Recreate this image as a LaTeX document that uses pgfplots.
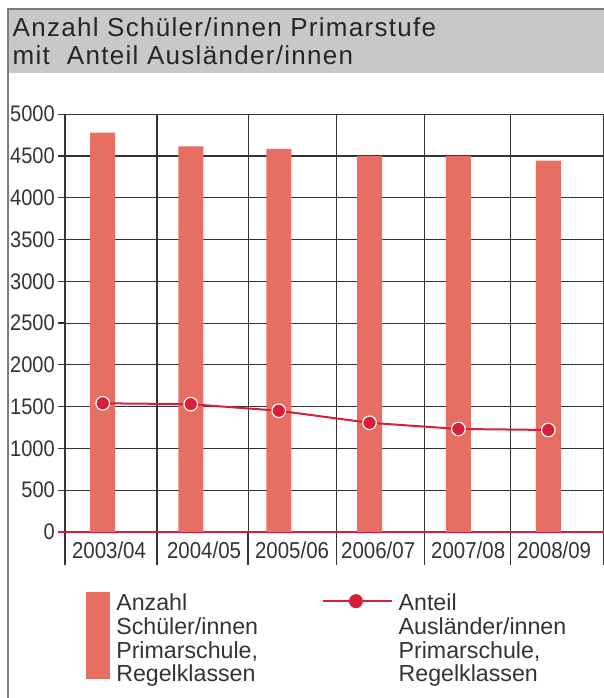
\documentclass[border=0pt]{standalone}
\usepackage{pgfplots}
\pgfplotsset{compat=1.18}
\usepackage{fontspec}
\setmainfont{Liberation Sans}[FakeStretch=0.89]
\newfontfamily\titlefont{Liberation Sans}[LetterSpace=5]
\newfontfamily\legfont{Liberation Sans}
\definecolor{barc}{HTML}{E66E63}
\definecolor{linec}{HTML}{D81E3B}
\definecolor{boxc}{HTML}{C8C8CA}
\definecolor{framec}{HTML}{7A7A7A}
\definecolor{gridc}{HTML}{333333}
\begin{document}
\begin{tikzpicture}
\useasboundingbox (0bp,0bp) rectangle (604bp,698bp);
\fill[boxc] (7.5bp,625.3bp) rectangle (604bp,689bp);
\draw[framec, line width=1.5bp] (7.8bp,0bp) -- (7.8bp,689bp) -- (604bp,689bp);
\node[anchor=base west, inner sep=0pt, text=black!85, font=\titlefont\fontsize{26bp}{26bp}\selectfont] at (12.5bp,661.3bp) {Anzahl Schüler/innen Primarstufe};
\node[anchor=base west, inner sep=0pt, text=black!85, font=\titlefont\fontsize{26bp}{26bp}\selectfont] at (12.5bp,633.7bp) {mit\ \ Anteil Ausländer/innen};
\begin{axis}[
  at={(65bp,166bp)}, anchor=south west,
  scale only axis, width=539bp, height=417.8bp,
  xmin=0, xmax=6, ymin=0, ymax=5000,
  axis lines=left, axis line style={-},
  x axis line style={draw=linec, line width=1.2bp},
  y axis line style={draw=gridc, line width=1.2bp},
  tick align=outside,
  major tick length=6.7bp,
  xtick={0,1.024,2.038,3.018,3.998,4.955,6},
  xticklabels={},
  xtick style={draw=gridc, line width=1.2bp, /pgfplots/major tick length=33.4bp},
  ytick={500,1000,...,5000},
  ytick style={draw=gridc, line width=1.2bp},
  xmajorgrids, ymajorgrids,
  major grid style={draw=gridc, line width=1.1bp},
  scaled y ticks=false,
  yticklabel style={font=\fontsize{22.5bp}{26bp}\selectfont, /pgf/number format/1000 sep={}, /pgf/number format/assume math mode=true, text=black!80},
  extra y ticks={0},
  extra y tick style={grid=none, ytick style={draw=linec, line width=1.2bp}},
  extra x ticks={0.49,1.548,2.528,3.486,4.488,5.445},
  extra x tick labels={2003/04,2004/05,2005/06,2006/07,2007/08,2008/09},
  extra x tick style={grid=none, xtick style={/pgfplots/major tick length=0pt, draw=none},
     xticklabel style={font=\fontsize{23bp}{26bp}\selectfont, text=black!80}},
  legend columns=2,
  legend style={at={(0.0395,-0.1437)}, anchor=north west, draw=none, fill=none,
     inner sep=0pt, outer sep=0pt, row sep=0pt,
     font=\legfont\fontsize{23.2bp}{22.8bp}\selectfont, text=black!80,
     /tikz/every odd column/.append style={column sep=4bp},
     /tikz/every even column/.append style={column sep=61.5bp}},
]
\addplot[ybar, bar width=25bp, bar shift=0pt, fill=barc, draw=none,
  legend image code/.code={\fill[barc] (0bp,10.7bp) rectangle (24bp,-76bp);}]
  coordinates {(0.42,4780) (1.40,4616) (2.38,4585) (3.39,4500) (4.38,4500) (5.38,4444)};
\addlegendentry{\begin{tabular}[t]{@{}l@{}}Anzahl\\Schüler/innen\\Primarschule,\\Regelklassen\end{tabular}}
\addplot[linec, line width=2bp, mark=*, mark size=6.8bp,
  mark options={fill=linec, draw=white, line width=1.2bp},
  legend image code/.code={\path (0bp,2bp) -- (69bp,2bp); \draw[linec, line width=2bp] (0bp,2bp) -- (65.7bp,2bp); \fill[linec] (33.3bp,2bp) circle (6bp);}]
  coordinates {(0.42,1540) (1.40,1530) (2.38,1451) (3.39,1307) (4.38,1233) (5.38,1221)};
\addlegendentry{\begin{tabular}[t]{@{}l@{}}Anteil\\Ausländer/innen\\Primarschule,\\Regelklassen\end{tabular}}
\end{axis}
\end{tikzpicture}
\end{document}
